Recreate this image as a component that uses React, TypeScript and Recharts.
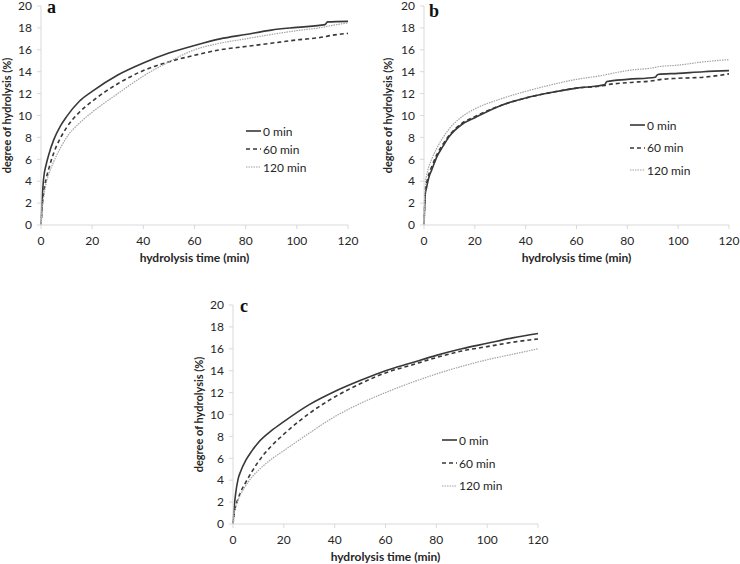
import React from 'react'
import { LineChart, Line, XAxis, YAxis, Legend, Label } from 'recharts'

// hydrolysis time (min) per panel; panels a and b carry extra points around the small steps
const TIMES_A = [0, 0.5, 1, 2, 3, 5, 7.5, 10, 15, 20, 30, 40, 50, 60, 70, 80, 90, 100, 111, 112, 120]
const TIMES_B = [0, 0.5, 1, 2, 3, 5, 7.5, 10, 15, 20, 30, 40, 50, 60, 71, 72, 80, 91, 92, 100, 110, 120]
const TIMES_C = [0, 0.5, 1, 2, 3, 5, 7.5, 10, 15, 20, 30, 40, 50, 60, 70, 80, 90, 100, 110, 120]

// degree of hydrolysis (%) — panel a
const A_0 = [0, 2.6, 4.2, 5.5, 6.4, 7.8, 9.0, 9.9, 11.3, 12.2, 13.7, 14.8, 15.7, 16.4, 17.0, 17.4, 17.8, 18.05, 18.3, 18.55, 18.6]
const A_60 = [0, 1.8, 2.9, 4.2, 5.1, 6.6, 7.9, 8.9, 10.3, 11.3, 12.9, 14.1, 14.9, 15.5, 16.0, 16.3, 16.6, 16.9, 17.2, 17.25, 17.5]
const A_120 = [0, 1.6, 2.5, 3.8, 4.6, 5.8, 7.0, 8.0, 9.3, 10.3, 12.0, 13.6, 14.9, 16.0, 16.6, 17.0, 17.4, 17.75, 18.1, 18.15, 18.45]

// panel b
const B_0 = [0, 2.8, 3.4, 4.4, 5.0, 6.2, 7.2, 8.1, 9.2, 9.8, 10.9, 11.6, 12.1, 12.5, 12.8, 13.1, 13.3, 13.5, 13.75, 13.85, 14.0, 14.1]
const B_60 = [0, 3.2, 3.8, 4.7, 5.3, 6.4, 7.4, 8.2, 9.3, 9.9, 10.9, 11.6, 12.1, 12.5, 12.75, 12.8, 13.0, 13.2, 13.25, 13.4, 13.5, 13.8]
const B_120 = [0, 3.8, 4.5, 5.4, 6.0, 7.0, 8.0, 8.8, 9.9, 10.6, 11.5, 12.2, 12.8, 13.3, 13.7, 13.75, 14.1, 14.4, 14.45, 14.6, 14.9, 15.1]

// panel c
const C_0 = [0, 1.6, 2.7, 4.1, 4.8, 5.8, 6.7, 7.45, 8.5, 9.35, 10.9, 12.1, 13.1, 14.0, 14.7, 15.4, 16.0, 16.5, 17.0, 17.4]
const C_60 = [0, 1.0, 1.6, 2.3, 2.9, 3.8, 4.8, 5.7, 7.1, 8.2, 10.1, 11.6, 12.8, 13.8, 14.5, 15.2, 15.8, 16.2, 16.6, 16.9]
const C_120 = [0, 1.0, 1.5, 2.2, 2.7, 3.5, 4.3, 4.9, 5.9, 6.7, 8.3, 9.8, 11.0, 12.0, 12.9, 13.7, 14.4, 15.0, 15.5, 16.0]

const X_TICKS = [0, 20, 40, 60, 80, 100, 120]
const Y_TICKS = [0, 2, 4, 6, 8, 10, 12, 14, 16, 18, 20]

const SERIES = [
  { key: 's0', name: '0 min', color: '#383838', dash: undefined as string | undefined, width: 1.6 },
  { key: 's60', name: '60 min', color: '#383838', dash: '4 3', width: 1.6 },
  { key: 's120', name: '120 min', color: '#a3a3a3', dash: '1.5 1', width: 1.2 },
]

const AXIS_GRAY = '#d9d9d9'
const TEXT = '#262626'

const build = (times: number[], s0: number[], s60: number[], s120: number[]) =>
  times.map((t, i) => ({ t, s0: s0[i], s60: s60[i], s120: s120[i] }))

interface PanelProps {
  left: number
  top: number
  width: number
  height: number
  data: any[]
  letter: string
  letterPos: [number, number]
  margin: { top: number; right: number; bottom: number; left: number }
  yAxisWidth: number
  yTitleX: number
  xAxisHeight: number
  legendPos: [number, number]
  legendRow: number
}

const Panel: React.FC<PanelProps> = (p) => {
  const renderLegend = () => (
    <div style={{ fontSize: 12, color: TEXT }}>
      {SERIES.map((s) => (
        <div key={s.key} style={{ display: 'flex', alignItems: 'center', height: p.legendRow }}>
          <svg width={15} height={4} style={{ marginRight: 2 }}>
            <line x1={0} y1={2} x2={15} y2={2} stroke={s.color} strokeWidth={s.width} strokeDasharray={s.dash} />
          </svg>
          <span>{s.name}</span>
        </div>
      ))}
    </div>
  )

  return (
    <div style={{ position: 'absolute', left: p.left, top: p.top }}>
      <LineChart width={p.width} height={p.height} data={p.data} margin={p.margin}>
        <XAxis
          dataKey="t"
          type="number"
          domain={[0, 120]}
          ticks={X_TICKS}
          interval={0}
          height={p.xAxisHeight}
          stroke={AXIS_GRAY}
          tickSize={4}
          tickMargin={7}
          tick={{ fill: TEXT, fontSize: 12 }}
        >
          <Label
            content={({ viewBox }: any) => (
              <text
                x={viewBox.x + viewBox.width / 2}
                y={viewBox.y + 33}
                dy="0.35em"
                textAnchor="middle"
                fontWeight="bold"
                fontSize={12}
                fill={TEXT}
              >
                hydrolysis time (min)
              </text>
            )}
          />
        </XAxis>
        <YAxis
          type="number"
          domain={[0, 20]}
          ticks={Y_TICKS}
          interval={0}
          width={p.yAxisWidth}
          stroke={AXIS_GRAY}
          tickSize={4}
          tickMargin={5}
          tick={{ fill: TEXT, fontSize: 12 }}
        >
          <Label
            content={({ viewBox }: any) => {
              const x = viewBox.x + p.yTitleX
              const y = viewBox.y + viewBox.height / 2
              return (
                <text
                  x={x}
                  y={y}
                  dy="0.35em"
                  transform={`rotate(-90, ${x}, ${y})`}
                  textAnchor="middle"
                  fontWeight="bold"
                  fontSize={11}
                  fill={TEXT}
                >
                  degree of hydrolysis (%)
                </text>
              )
            }}
          />
        </YAxis>
        <Legend
          layout="vertical"
          align="center"
          verticalAlign="middle"
          content={renderLegend}
          wrapperStyle={{ left: p.legendPos[0], top: p.legendPos[1], width: 'auto' }}
        />
        {SERIES.map((s) => (
          <Line
            key={s.key}
            dataKey={s.key}
            name={s.name}
            type="monotone"
            stroke={s.color}
            strokeWidth={s.width}
            strokeDasharray={s.dash}
            dot={false}
            activeDot={false}
            isAnimationActive={false}
          />
        ))}
        <text
          x={p.letterPos[0]}
          y={p.letterPos[1]}
          fontFamily="'Liberation Serif', serif"
          fontWeight="bold"
          fontSize={18}
          fill="#111"
        >
          {p.letter}
        </text>
      </LineChart>
    </div>
  )
}

export default function App() {
  return (
    <div
      style={{
        position: 'absolute',
        left: 0,
        top: 0,
        width: 740,
        height: 564,
        background: '#fff',
        fontFamily: 'Lato, "Open Sans", sans-serif',
      }}
    >
      <Panel
        left={0}
        top={0}
        width={370}
        height={270}
        data={build(TIMES_A, A_0, A_60, A_120)}
        letter="a"
        letterPos={[47, 13]}
        margin={{ top: 6, right: 22, bottom: 0, left: 0 }}
        yAxisWidth={41}
        yTitleX={7}
        xAxisHeight={45}
        legendPos={[246, 122]}
        legendRow={18}
      />
      <Panel
        left={370}
        top={0}
        width={370}
        height={270}
        data={build(TIMES_B, B_0, B_60, B_120)}
        letter="b"
        letterPos={[59, 17]}
        margin={{ top: 6, right: 11, bottom: 0, left: 0 }}
        yAxisWidth={54}
        yTitleX={18}
        xAxisHeight={45}
        legendPos={[260, 114]}
        legendRow={22.5}
      />
      <Panel
        left={190}
        top={290}
        width={370}
        height={274}
        data={build(TIMES_C, C_0, C_60, C_120)}
        letter="c"
        letterPos={[50, 22]}
        margin={{ top: 15, right: 22, bottom: 0, left: 0 }}
        yAxisWidth={43}
        yTitleX={9}
        xAxisHeight={40}
        legendPos={[252, 139]}
        legendRow={22.7}
      />
    </div>
  )
}
